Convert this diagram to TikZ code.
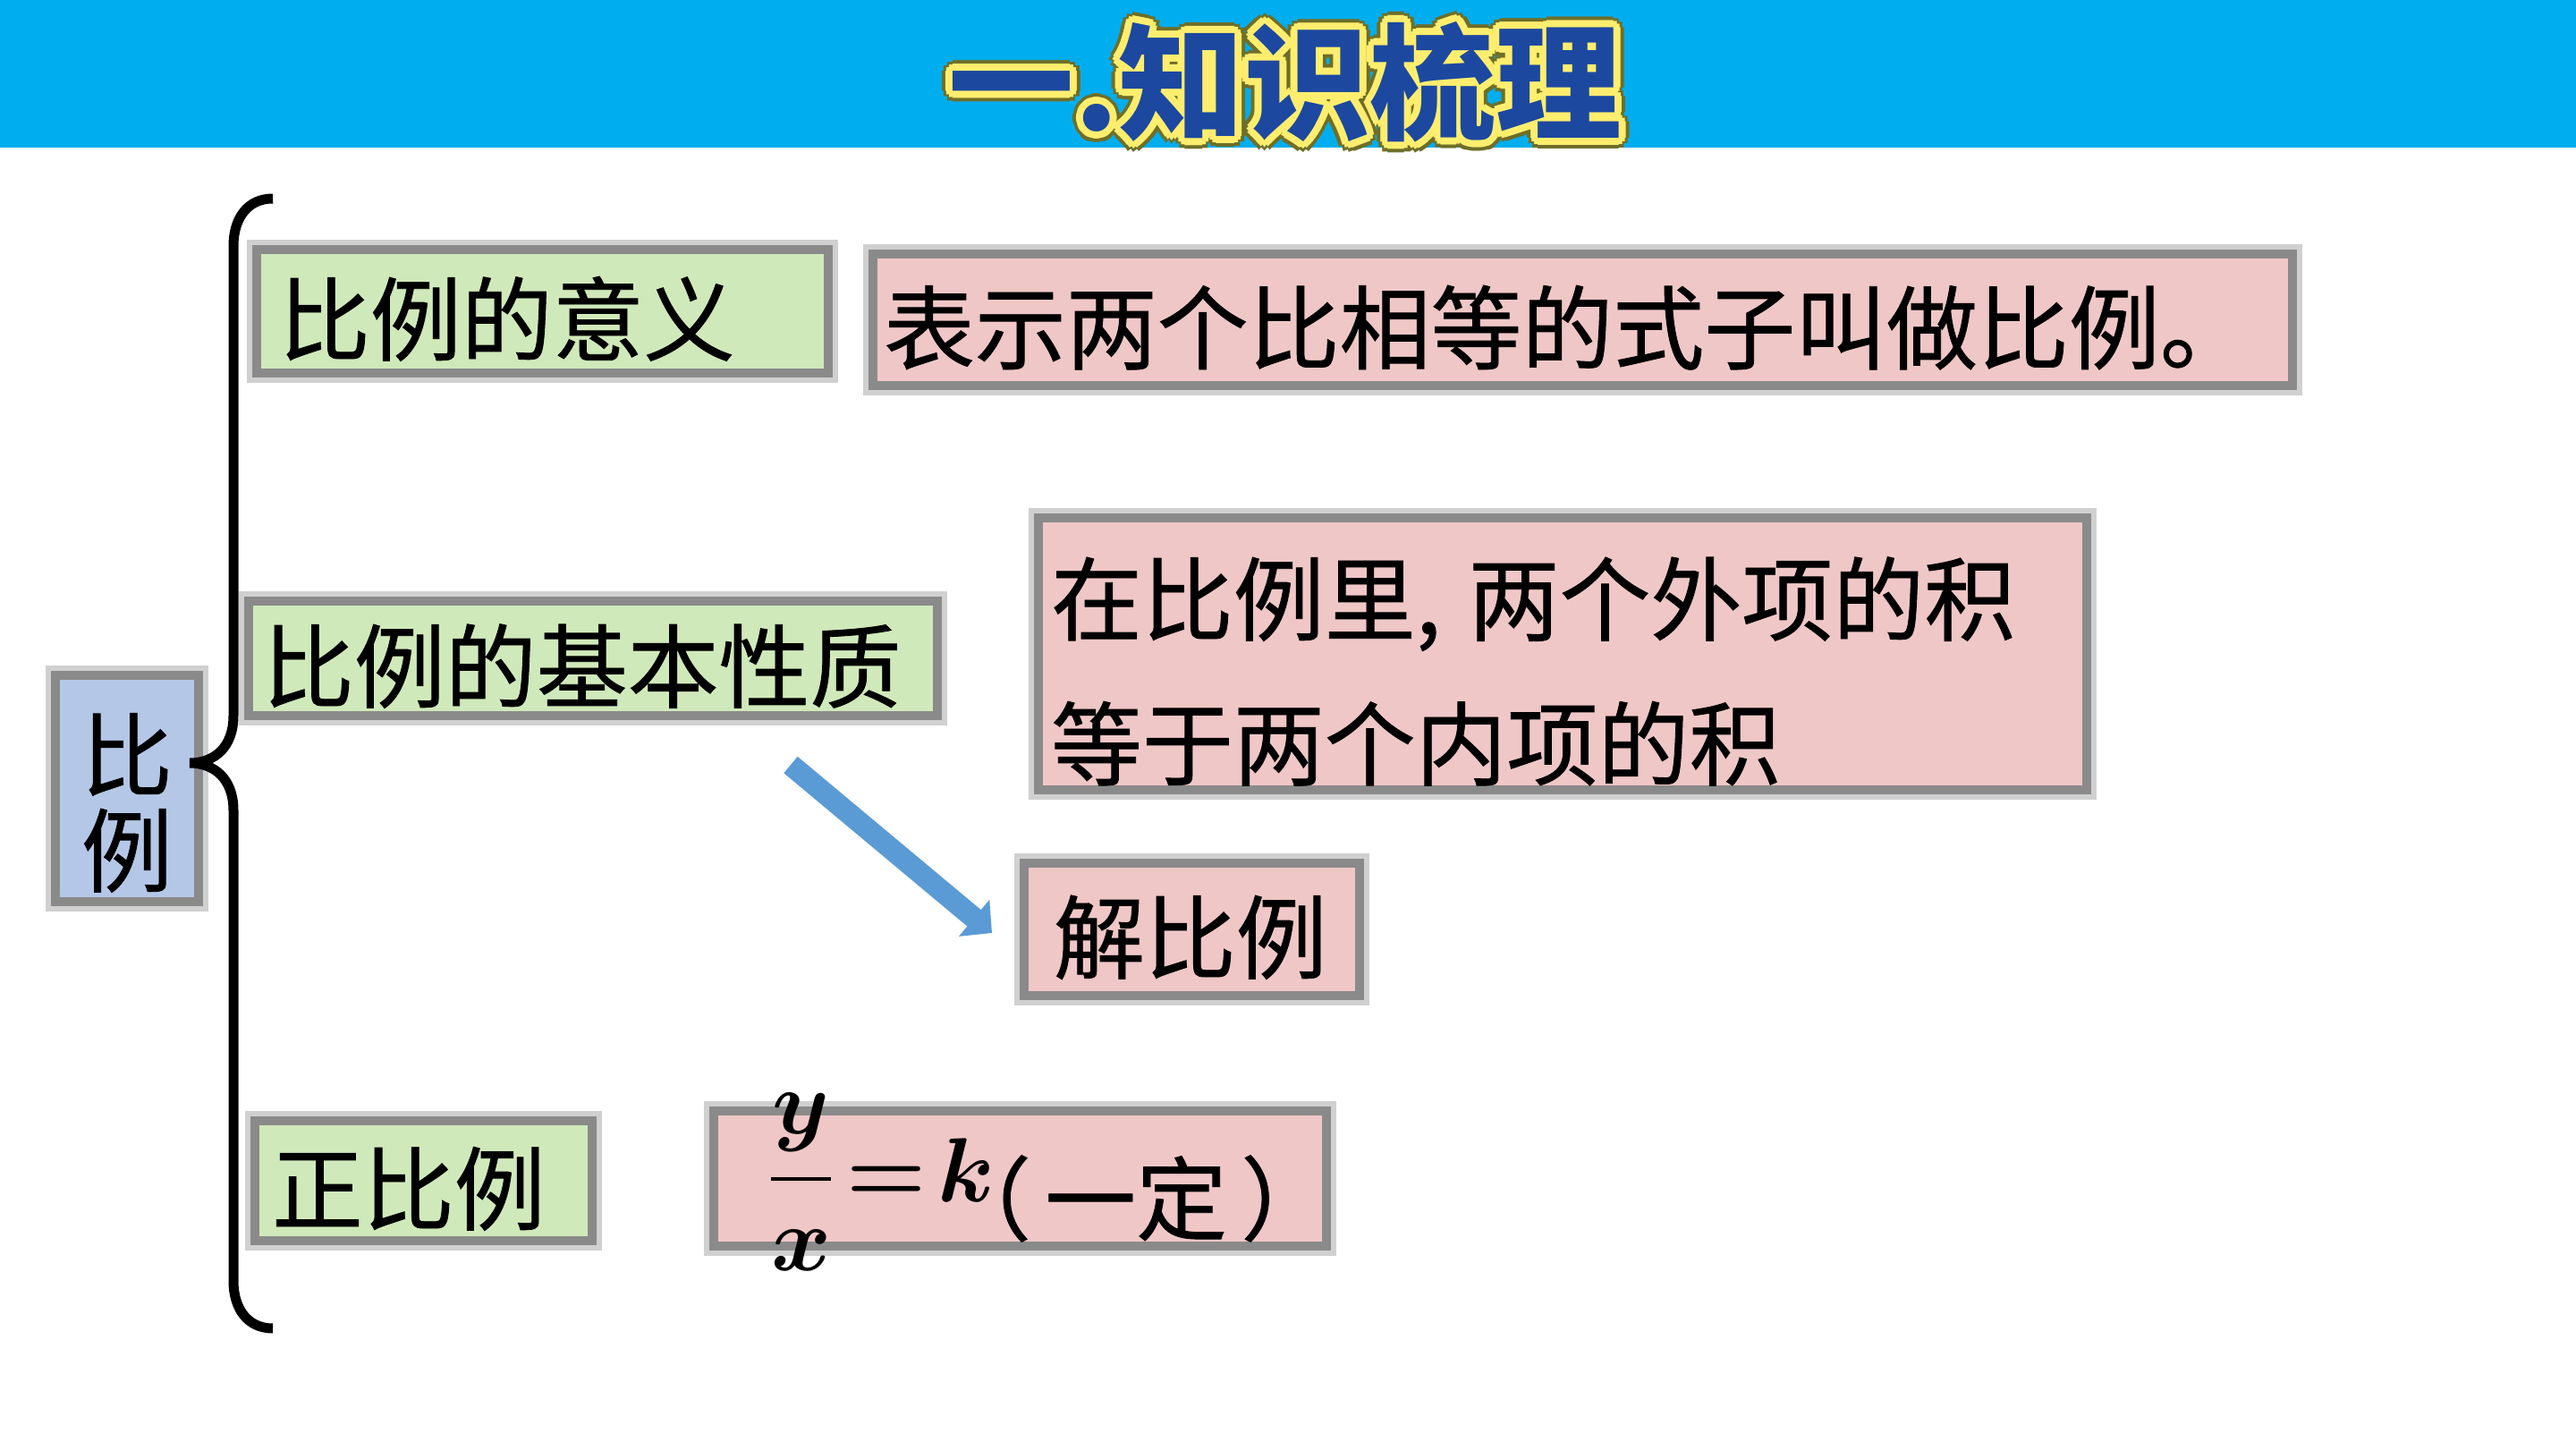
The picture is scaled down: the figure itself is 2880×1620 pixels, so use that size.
\documentclass[tikz,border=0pt]{standalone}
\usepackage{fix-cm}
\usepackage{amsmath}
\usepackage{fontspec}
\usepackage{tikz}
\usetikzlibrary{arrows.meta}
\newfontfamily\cjk{Noto Sans CJK SC}[FakeBold=0.8]
\newfontfamily\cjktitle{Noto Sans CJK SC}
\definecolor{headblue}{RGB}{0,174,239}
\definecolor{titleblue}{RGB}{28,72,160}
\definecolor{titleyellow}{RGB}{255,238,110}
\definecolor{titleolive}{RGB}{110,110,40}
\definecolor{boxgray}{RGB}{138,138,138}
\definecolor{greenfill}{RGB}{208,233,186}
\definecolor{pinkfill}{RGB}{239,199,198}
\definecolor{bluefill}{RGB}{180,199,231}
\definecolor{arrowblue}{RGB}{91,155,213}
\tikzstyle{title text}=[font=\cjktitle\bfseries\fontsize{40}{40}\selectfont]
\tikzstyle{topic box}=[draw=boxgray,line width=1mm,preaction={draw=boxgray!40,line width=2.2mm},align=left,inner ysep=0pt,font=\cjk\fontsize{29}{35}\selectfont]
\tikzstyle{green box}=[topic box,fill=greenfill]
\tikzstyle{pink box}=[topic box,fill=pinkfill]
\tikzstyle{one line}=[text height=0.95cm,text depth=0cm]

\begin{document}
\begin{tikzpicture}[x=0.1mm,y=-0.1mm]
\useasboundingbox (0,0) rectangle (2880,1620);
\fill[white] (0,0) rectangle (2880,1620);
\fill[headblue] (0,0) rectangle (2880,165);
\foreach \a in {0,30,...,330} \node[title text,text=titleolive,shift={(\a:1.2mm)}] (olive\a) at (1437,92) {一.知识梳理};
\foreach \a in {0,30,...,330} \node[title text,text=titleyellow,shift={(\a:0.8mm)}] (yellow\a) at (1437,92) {一.知识梳理};
\node[title text,text=titleblue] (title) at (1437,92) {一.知识梳理};
\node[topic box,fill=bluefill,align=center,inner xsep=0.2cm,text width=1.2cm,minimum height=2.53cm,font=\cjk\fontsize{29}{30.5}\selectfont] (ratio) at (142,881.5) {\rule{0pt}{1.17cm}比\\例};
\draw[line width=1.1mm] (305,222) .. controls (276,222) and (261,245) .. (261,275) -- (261,800) .. controls (261,835) and (240,853) .. (212,853) .. controls (240,853) and (261,871) .. (261,906) -- (261,1432) .. controls (261,1462) and (276,1485) .. (305,1485);
\node[green box,one line,inner xsep=0.25cm,text width=5.89cm,minimum height=1.38cm] (meaning) at (606.5,348) {比例的意义};
\node[pink box,one line,inner xsep=0.12cm,text width=15.63cm,minimum height=1.47cm] (meaningdef) at (1769.5,357.5) {表示两个比相等的式子叫做比例。};
\node[green box,one line,inner xsep=0.16cm,text width=7.38cm,minimum height=1.28cm] (property) at (663,736) {比例的基本性质};
\node[pink box,inner xsep=0.14cm,text width=11.44cm,minimum height=3.04cm,font=\cjk\fontsize{29}{46}\selectfont] (propertydef) at (1747,731) {\rule{0pt}{1.25cm}在比例里,\hspace{0.3em}两个外项的积\\等于两个内项的积};
\node[pink box,one line,inner xsep=0.33cm,text width=3.09cm,minimum height=1.48cm] (solve) at (1332.5,1039) {解比例};
\node[green box,one line,inner xsep=0.19cm,text width=3.39cm,minimum height=1.34cm] (direct) at (473.5,1320) {正比例};
\node[pink box,inner xsep=0.6cm,text width=5.65cm,minimum height=1.51cm,text height=0.7cm,text depth=0.18cm] (directdef) at (1140.5,1317.5) {\mbox{{\boldmath$\dfrac{y}{x}\mkern-3mu=\mkern-3mu k$}\hspace{-0.6em}\raisebox{-10pt}{（\hspace{0.15em}一定\hspace{0.15em}）}}};
\coordinate (arrowtail) at (884,855);
\coordinate (arrowtip) at (1109,1043);
\draw[arrowblue,line width=2.4mm,-{Triangle[width=5.2mm,length=2.6mm]}] (arrowtail) -- (arrowtip);
\end{tikzpicture}
\end{document}
